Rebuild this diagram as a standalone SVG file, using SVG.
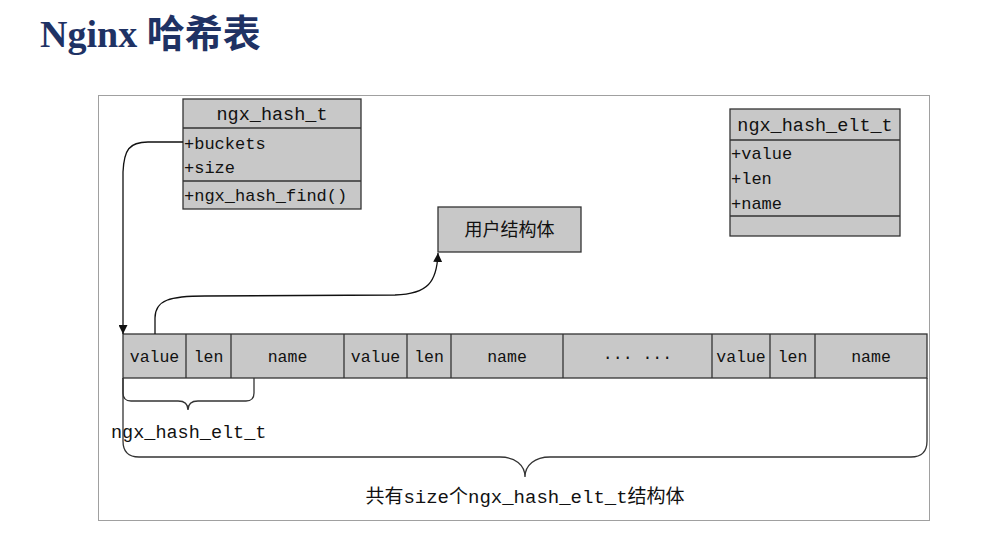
<svg xmlns="http://www.w3.org/2000/svg" width="1005" height="540" viewBox="0 0 1005 540">
<style>
.t{font-family:"Liberation Mono","Noto Sans CJK SC",monospace;fill:#111}
.box{fill:#c8c8c8;stroke:#333;stroke-width:1.3}
.ln{fill:none;stroke:#333;stroke-width:1.3}
.con{fill:none;stroke:#111;stroke-width:1.3}
</style>
<defs>
<marker id="ah" viewBox="0 0 10 10" refX="10" refY="5" markerWidth="9" markerHeight="9" orient="auto" markerUnits="userSpaceOnUse">
<path d="M0,0 L10,5 L0,10 z" fill="#111"/>
</marker>
</defs>
<rect width="1005" height="540" fill="#fff"/>
<text x="40" y="47" font-size="38" font-weight="bold" fill="#1f3264"><tspan font-family="Liberation Serif, serif">Nginx </tspan><tspan font-family="Noto Sans CJK SC, sans-serif">哈希表</tspan></text>
<rect x="98.5" y="95.5" width="831" height="425" fill="none" stroke="#a0a0a0" stroke-width="1"/>

<g id="ngx_hash_t">
<rect class="box" x="183" y="99" width="178" height="110"/>
<line class="ln" x1="183" y1="128" x2="361" y2="128"/>
<line class="ln" x1="183" y1="181" x2="361" y2="181"/>
<text class="t" x="272" y="120" font-size="18.5" text-anchor="middle">ngx_hash_t</text>
<text class="t" x="184" y="149" font-size="17">+buckets</text>
<text class="t" x="184" y="173" font-size="17">+size</text>
<text class="t" x="184" y="201" font-size="17">+ngx_hash_find()</text>
</g>

<g id="ngx_hash_elt_t">
<rect class="box" x="730" y="109" width="170" height="127"/>
<line class="ln" x1="730" y1="140" x2="900" y2="140"/>
<line class="ln" x1="730" y1="216" x2="900" y2="216"/>
<text class="t" x="815" y="131" font-size="18.5" text-anchor="middle">ngx_hash_elt_t</text>
<text class="t" x="731" y="159" font-size="17">+value</text>
<text class="t" x="731" y="184" font-size="17">+len</text>
<text class="t" x="731" y="209" font-size="17">+name</text>
</g>

<g id="user_struct">
<rect class="box" x="438" y="207" width="143" height="45"/>
<text class="t" x="509.5" y="236" font-size="18" text-anchor="middle">用户结构体</text>
</g>

<g id="array">
<rect class="box" x="123" y="334" width="804" height="44"/>
<g class="ln">
<line x1="186" y1="334" x2="186" y2="378"/>
<line x1="231" y1="334" x2="231" y2="378"/>
<line x1="344" y1="334" x2="344" y2="378"/>
<line x1="407" y1="334" x2="407" y2="378"/>
<line x1="451" y1="334" x2="451" y2="378"/>
<line x1="563" y1="334" x2="563" y2="378"/>
<line x1="712" y1="334" x2="712" y2="378"/>
<line x1="770" y1="334" x2="770" y2="378"/>
<line x1="815" y1="334" x2="815" y2="378"/>
</g>
<g class="t" font-size="16.5" text-anchor="middle">
<text x="154.5" y="362">value</text>
<text x="208.5" y="362">len</text>
<text x="287.5" y="362">name</text>
<text x="375.5" y="362">value</text>
<text x="429" y="362">len</text>
<text x="507" y="362">name</text>
<text x="637.5" y="362">··· ···</text>
<text x="741" y="362">value</text>
<text x="792.5" y="362">len</text>
<text x="871" y="362">name</text>
</g>
</g>

<g id="braces">
<path class="ln" d="M123,378 L123,393 Q123,401 131,401 L178,401 Q188,401 188,410 Q188,401 198,401 L246,401 Q254,401 254,393 L254,378"/>
<text class="t" x="111" y="438" font-size="18.5">ngx_hash_elt_t</text>
<path class="ln" d="M123,378 L123,441 Q123,457 139,457 L500,457 C515,457 525,465 525,477 C525,465 535,457 550,457 L911,457 Q927,457 927,441 L927,378"/>
<text class="t" x="525" y="503" font-size="19" text-anchor="middle">共有size个ngx_hash_elt_t结构体</text>
</g>

<g id="connectors">
<path class="con" d="M183,142 L148,142 C129,142 124,150 123,172 L123,334" marker-end="url(#ah)"/>
<path class="con" d="M155,334 L155,318 C155,300 170,296 205,296 L395,295 C428,294 437,282 438,253" marker-end="url(#ah)"/>
</g>
</svg>
